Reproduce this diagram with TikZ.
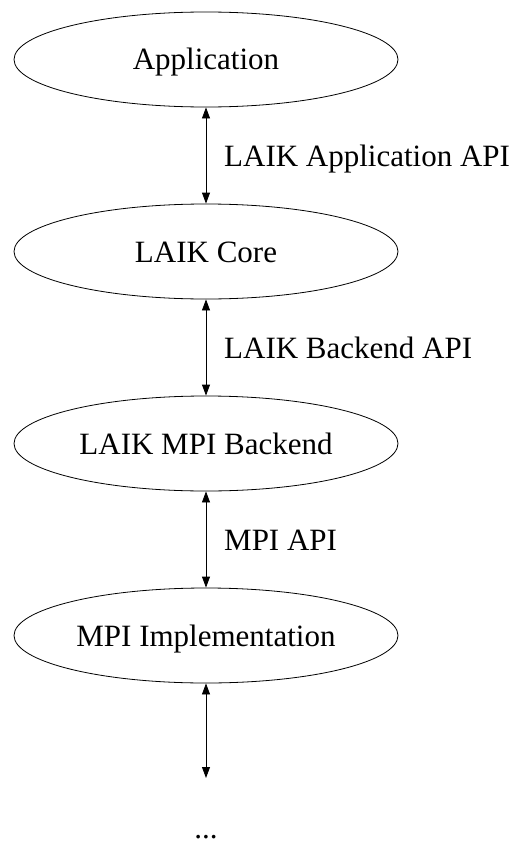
\documentclass[tikz,border=0pt]{standalone}
\usepackage{fontspec}
\setmainfont{Liberation Serif}
\usetikzlibrary{shapes.geometric,arrows.meta}
\tikzset{
  layer/.style={draw=black, line width=0.8pt, ellipse, minimum width=384pt, minimum height=95pt,
    inner sep=0pt, text height=21pt, text depth=0pt, font=\fontsize{31}{36}\selectfont},
  apilabel/.style={anchor=west, inner sep=0pt, text height=22pt, text depth=0pt, font=\fontsize{31}{36}\selectfont},
  link/.style={draw=black, line width=0.8pt, {Triangle[length=11pt,width=8pt]}-{Triangle[length=11pt,width=8pt]}}
}
\begin{document}
\begin{tikzpicture}[x=1pt,y=1pt]
\useasboundingbox (0,0) rectangle (518,-843);
\node[layer] (app) at (206,-59.5) {Application};
\node[layer] (core) at (206,-251.5) {LAIK Core};
\node[layer] (mpib) at (206,-443.5) {LAIK MPI Backend};
\node[layer] (mpii) at (206,-635.5) {MPI Implementation};
\coordinate (end) at (206,-778);
\node[anchor=base, inner sep=0pt, font=\fontsize{31}{36}\selectfont] (dots) at (206,-838) {...};
\draw[link] (app.south) -- (core.north);
\draw[link] (core.south) -- (mpib.north);
\draw[link] (mpib.south) -- (mpii.north);
\draw[link] (mpii.south) -- (end);
\node[apilabel] (l1) at (224,-155.5) {LAIK Application API};
\node[apilabel] (l2) at (224,-347.5) {LAIK Backend API};
\node[apilabel] (l3) at (224,-539.5) {MPI API};
\end{tikzpicture}
\end{document}
